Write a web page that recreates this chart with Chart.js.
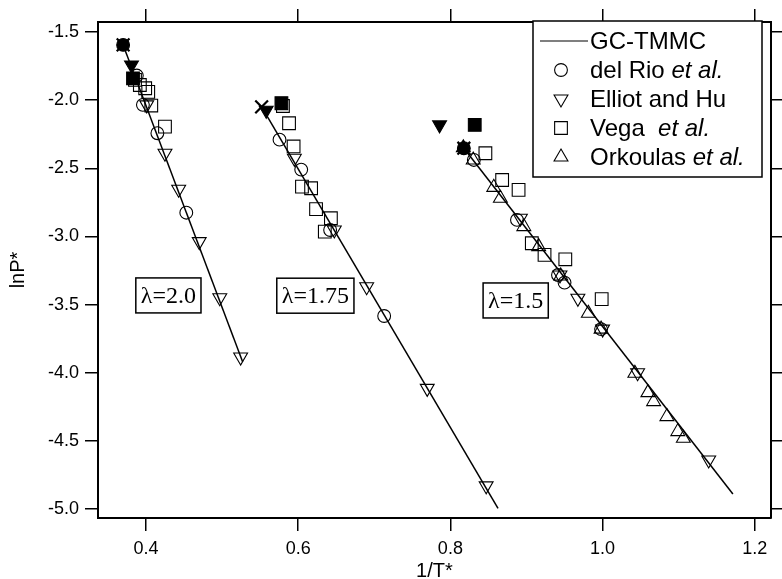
<!DOCTYPE html>
<html><head><meta charset="utf-8">
<script src="https://cdn.jsdelivr.net/npm/chart.js@4/dist/chart.umd.min.js"></script>
<style>html,body{margin:0;padding:0;background:#fff;}canvas{display:block;}</style>
</head><body>
<canvas id="c" width="782" height="579"></canvas>
<script>
// ---- data ----
const xTicks = [0.4, 0.6, 0.8, 1.0, 1.2];
const yTicks = [-1.5, -2.0, -2.5, -3.0, -3.5, -4.0, -4.5, -5.0];

// GC-TMMC curves, one per lambda
const gcLine20  = [[0.370, -1.595], [0.527, -3.92]];
const gcLine175 = [[0.552, -2.05], [0.8626, -4.995]];
const gcLine15  = [[0.8177, -2.353], [1.1712, -4.89]];
const gcCrit    = [[0.370, -1.595], [0.552, -2.05], [0.8177, -2.353]];

const delRio = [[0.388,-1.82],[0.396,-2.035],[0.415,-2.243],[0.453,-2.826],
  [0.5755,-2.29],[0.604,-2.51],[0.642,-2.953],[0.713,-3.584],
  [0.8308,-2.439],[0.8875,-2.879],[0.9414,-3.283],[0.950,-3.339],[0.998,-3.68]];
const delRioCrit = [[0.370,-1.595],[0.8177,-2.353]];

const elliot = [[0.401,-2.035],[0.425,-2.39],[0.443,-2.654],[0.470,-3.038],[0.497,-3.45],[0.5244,-3.885],
  [0.595,-2.427],[0.6475,-2.953],[0.690,-3.369],[0.7696,-4.115],[0.847,-4.83],
  [0.892,-2.867],[0.944,-3.283],[0.9675,-3.454],[1.000,-3.68],[1.046,-4.0],[1.1394,-4.64]];
const elliotCrit = [[0.381,-1.742],[0.558,-2.075],[0.7858,-2.182]];

const vega = [[0.3856,-1.852],[0.392,-1.889],[0.399,-1.913],[0.403,-1.94],[0.407,-2.04],[0.425,-2.195],
  [0.580,-2.043],[0.588,-2.17],[0.594,-2.34],[0.605,-2.635],[0.617,-2.647],[0.6235,-2.80],[0.643,-2.867],[0.635,-2.965],
  [0.846,-2.39],[0.868,-2.586],[0.8896,-2.659],[0.907,-3.05],[0.9237,-3.136],[0.951,-3.168],[0.9988,-3.46]];
const vegaCrit = [[0.383,-1.84],[0.578,-2.023],[0.832,-2.182]];

const orkoulas = [[0.830,-2.44],[0.857,-2.64],[0.8657,-2.72],[0.8965,-2.928],[0.916,-3.075],[0.945,-3.29],
  [0.9813,-3.564],[0.998,-3.68],[1.0424,-4.004],[1.0595,-4.146],[1.067,-4.212],[1.0845,-4.322],[1.0988,-4.432],[1.1061,-4.481]];
const orkoulasCrit = [[0.817,-2.35]];

const lambdaLabels = ['λ=2.0', 'λ=1.75', 'λ=1.5'];
const legendNames = [['GC-TMMC',''],['del Rio ','et al.'],['Elliot and Hu',''],['Vega  ','et al.'],['Orkoulas ','et al.']];

// ---- presentation ----
const lambdaAnchors = [[0.4295,-3.433],[0.6226,-3.435],[0.8858,-3.47]];
const pts = a => a.map(p => ({x: p[0], y: p[1]}));
const K = '#000', NONE = 'rgba(0,0,0,0)';
const SANS = '"Liberation Sans", Arial, sans-serif';
const SERIF = '"Liberation Serif", "Times New Roman", serif';

const lineDs = d => ({data: pts(d), showLine: true, borderColor: K, borderWidth: 1.5, pointRadius: 0, fill: false});
const mk = (d, style, r, rot, filled) => ({data: pts(d), showLine: false, pointStyle: style, pointRadius: r,
  pointHoverRadius: r, pointRotation: rot, pointBorderColor: K, pointBorderWidth: 1.1,
  pointBackgroundColor: filled ? K : NONE});

const sty = {
  circle: ['circle', 6.4, 0],
  down: ['triangle', 8, 180],
  rect: ['rect', 9, 0],
  up: ['triangle', 8, 0]
};

const datasets = [
  lineDs(gcLine20), lineDs(gcLine175), lineDs(gcLine15),
  mk(delRio, ...sty.circle, false),
  mk(elliot, ...sty.down, false),
  mk(vega, ...sty.rect, false),
  mk(orkoulas, ...sty.up, false),
  mk(delRioCrit, ...sty.circle, true),
  mk(elliotCrit, ...sty.down, true),
  mk(vegaCrit, ...sty.rect, true),
  mk(orkoulasCrit, ...sty.up, true),
  Object.assign(mk(gcCrit, 'crossRot', 9, 0, false), {pointBorderWidth: 2.2})
];

const gridOpts = {drawOnChartArea: false, drawTicks: true, tickLength: 13, color: K, lineWidth: 1.5};
const borderOpts = {display: true, color: K, width: 2};
const setTicks = arr => axis => { axis.ticks = arr.map(v => ({value: v})); };

const annot = {
  id: 'annot',
  afterDatasetsDraw(chart) {
    const ctx = chart.ctx, xs = chart.scales.x, ys = chart.scales.y;
    ctx.save();
    // lambda boxes
    ctx.font = '24px ' + SERIF;
    ctx.textAlign = 'center'; ctx.textBaseline = 'middle';
    lambdaLabels.forEach((t, i) => {
      const cx = xs.getPixelForValue(lambdaAnchors[i][0]);
      const cy = ys.getPixelForValue(lambdaAnchors[i][1]);
      const w = ctx.measureText(t).width + 10, h = 35;
      ctx.fillStyle = '#fff';
      ctx.fillRect(cx - w/2, cy - h/2, w, h);
      ctx.lineWidth = 1.5; ctx.strokeStyle = K;
      ctx.strokeRect(cx - w/2, cy - h/2, w, h);
      ctx.fillStyle = K;
      ctx.fillText(t, cx, cy + 1);
    });
    // legend
    const L = 533, T = 21, R = 762, B = 177;
    ctx.fillStyle = '#fff'; ctx.fillRect(L, T, R - L, B - T);
    ctx.lineWidth = 1.5; ctx.strokeStyle = K; ctx.strokeRect(L, T, R - L, B - T);
    const rowY = i => 41 + i * 29;
    const symX = 561, txtX = 590;
    ctx.beginPath(); ctx.moveTo(540, rowY(0)); ctx.lineTo(588, rowY(0)); ctx.lineWidth = 1.2; ctx.stroke();
    const syms = [null, sty.circle, sty.down, sty.rect, sty.up];
    for (let i = 1; i < 5; i++) {
      ctx.fillStyle = NONE; ctx.strokeStyle = K; ctx.lineWidth = 1.1;
      Chart.helpers.drawPoint(ctx, {pointStyle: syms[i][0], radius: syms[i][1], rotation: syms[i][2], borderWidth: 1.1}, symX, rowY(i));
    }
    ctx.fillStyle = K; ctx.textAlign = 'left'; ctx.textBaseline = 'middle';
    legendNames.forEach((n, i) => {
      ctx.font = '24px ' + SANS;
      ctx.fillText(n[0], txtX, rowY(i) + 1);
      if (n[1]) {
        const w = ctx.measureText(n[0]).width;
        ctx.font = 'italic 24px ' + SANS;
        ctx.fillText(n[1], txtX + w, rowY(i) + 1);
      }
    });
    ctx.restore();
  }
};

new Chart(document.getElementById('c'), {
  type: 'scatter',
  data: {datasets},
  options: {
    responsive: false, animation: false, devicePixelRatio: 1,
    layout: {padding: 0},
    plugins: {legend: {display: false}, tooltip: {enabled: false}},
    scales: {
      x: {type: 'linear', position: 'bottom', min: 0.337, max: 1.221,
        afterBuildTicks: setTicks(xTicks), afterFit: s => { s.height = 61; },
        grid: gridOpts, border: borderOpts,
        ticks: {color: K, font: {family: SANS, size: 18}, padding: 7, maxRotation: 0, callback: v => v.toFixed(1)},
        title: {display: true, text: '1/T*', color: K, font: {family: SANS, size: 20, lineHeight: 1}, padding: {top: 0, bottom: -2}}},
      x2: {type: 'linear', position: 'top', min: 0.337, max: 1.221,
        afterBuildTicks: setTicks(xTicks), afterFit: s => { s.height = 22; },
        grid: gridOpts, border: borderOpts, ticks: {display: false}},
      y: {type: 'linear', position: 'left', min: -5.066, max: -1.427,
        afterBuildTicks: setTicks(yTicks), afterFit: s => { s.width = 98; },
        grid: gridOpts, border: borderOpts,
        ticks: {color: K, font: {family: SANS, size: 18}, padding: 6, callback: v => v.toFixed(1)},
        title: {display: true, text: 'lnP*', color: K, font: {family: SANS, size: 20, lineHeight: 1.2}, padding: {top: 6, bottom: 0}}},
      y2: {type: 'linear', position: 'right', min: -5.066, max: -1.427,
        afterBuildTicks: setTicks(yTicks), afterFit: s => { s.width = 9; },
        grid: gridOpts, border: borderOpts, ticks: {display: false}}
    }
  },
  plugins: [annot]
});
</script>
</body></html>
